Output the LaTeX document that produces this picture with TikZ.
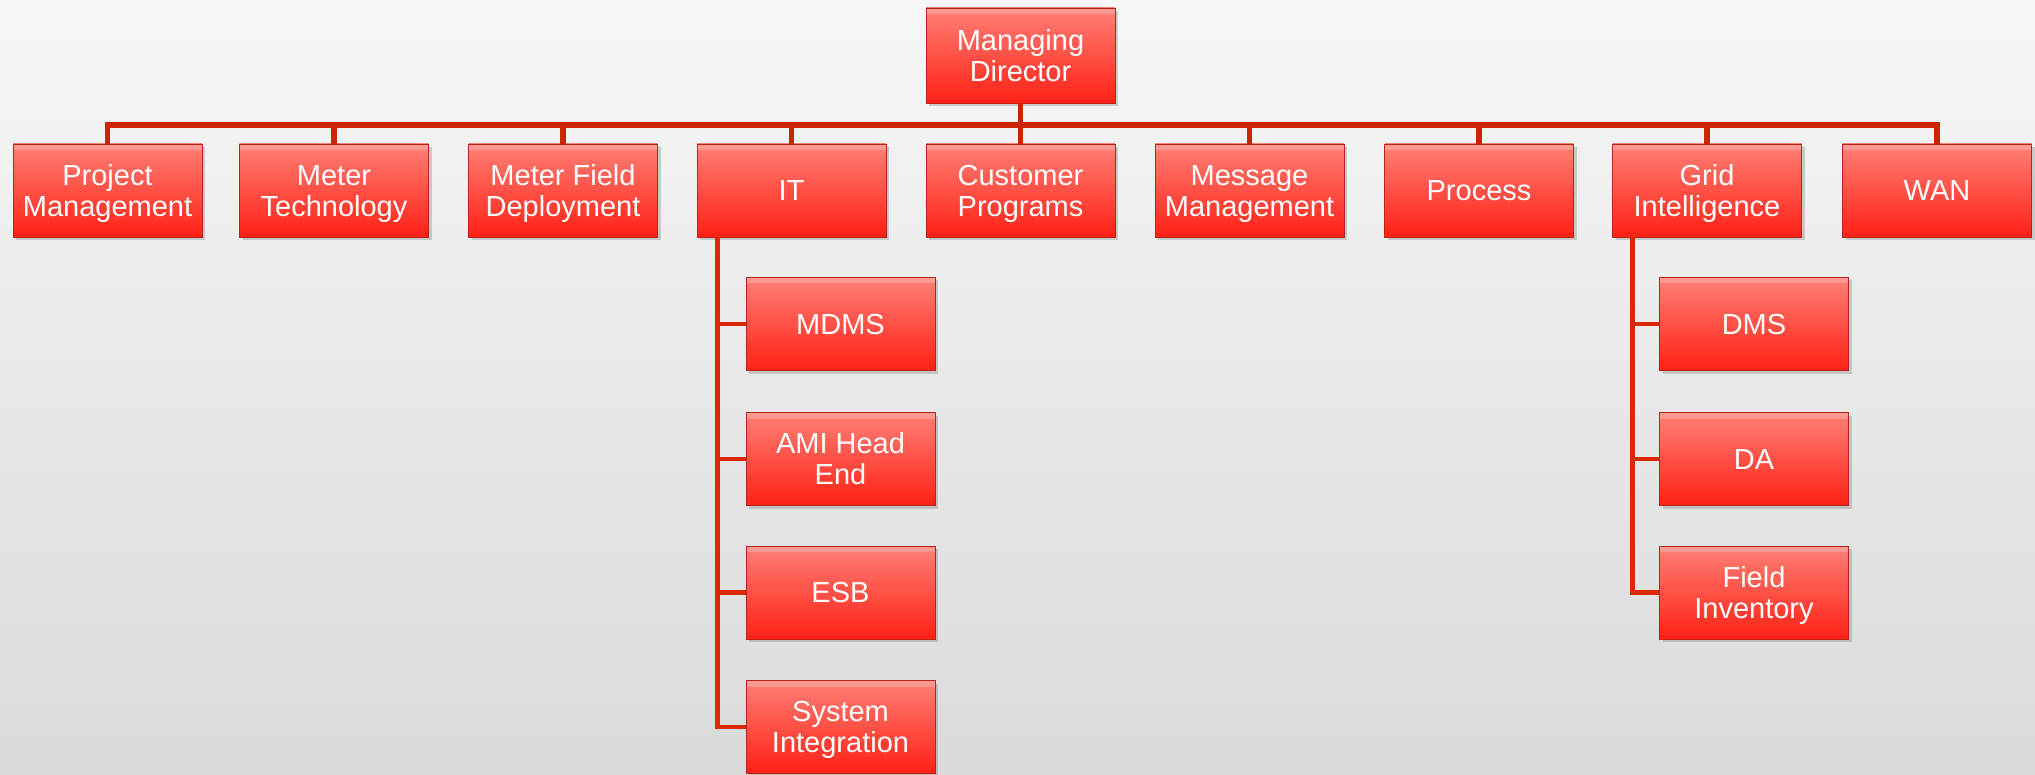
\documentclass[tikz,border=0pt]{standalone}
\usepackage{fontspec}
\setmainfont{Liberation Sans}
\usetikzlibrary{shadows}
\definecolor{bgtop}{RGB}{247,247,247}
\definecolor{bgbot}{RGB}{218,218,218}
\definecolor{boxtop}{RGB}{255,128,118}
\definecolor{boxmid}{RGB}{255,80,70}
\definecolor{boxbot}{RGB}{255,32,20}
\definecolor{boxedge}{RGB}{185,35,25}
\definecolor{linkred}{RGB}{205,35,0}
\definecolor{sublink}{RGB}{220,40,5}
\tikzset{
  orgbox/.style={draw=boxedge, line width=0.4pt, top color=boxtop, bottom color=boxbot, middle color=boxmid,
    minimum width=94.5pt, minimum height=46.5pt, inner sep=0pt, align=center, text=white,
    font=\fontsize{14.5}{15.5}\selectfont,
    text height=10.4pt, text depth=0pt,
    drop shadow={opacity=0.35, shadow xshift=1.5pt, shadow yshift=-1.5pt},
    path picture={\fill[white,opacity=0.22] (path picture bounding box.north west) rectangle ([yshift=-3pt]path picture bounding box.north east);}},
  twoline/.style={text height=25.9pt, text depth=0pt},
  link/.style={draw=linkred, line width=2.6pt},
  sublinkstyle/.style={draw=sublink, line width=2.4pt}
}
\begin{document}
\begin{tikzpicture}[x=0.5pt,y=-0.5pt]
\useasboundingbox (0,0) rectangle (2035,775);
\shade[top color=bgtop, bottom color=bgbot] (0,0) rectangle (2035,775);
\coordinate (bus) at (0,125);
% nodes
\node[orgbox, twoline, minimum height=47.5pt] (md) at (1020.5,55.5) {Managing\\Director};
\node[orgbox, twoline] (pm) at (107.5,190.5) {Project\\Management};
\node[orgbox, twoline] (mt) at (334,190.5) {Meter\\Technology};
\node[orgbox, twoline] (mfd) at (563,190.5) {Meter Field\\Deployment};
\node[orgbox] (it) at (791.5,190.5) {IT};
\node[orgbox, twoline] (cp) at (1020.5,190.5) {Customer\\Programs};
\node[orgbox, twoline] (mm) at (1249.5,190.5) {Message\\Management};
\node[orgbox] (proc) at (1479,190.5) {Process};
\node[orgbox, twoline] (gi) at (1707,190.5) {Grid\\Intelligence};
\node[orgbox] (wan) at (1937,190.5) {WAN};
\node[orgbox] (mdms) at (840.5,324) {MDMS};
\node[orgbox, twoline] (ami) at (840.5,459) {AMI Head\\End};
\node[orgbox] (esb) at (840.5,592.5) {ESB};
\node[orgbox, twoline] (si) at (840.5,727) {System\\Integration};
\node[orgbox] (dms) at (1754,324) {DMS};
\node[orgbox] (da) at (1754,459) {DA};
\node[orgbox, twoline] (fi) at (1754,592.5) {Field\\Inventory};
% connectors
\draw[link] (md.south) -- (cp.north);
\draw[link] (pm.north) -- (pm.north |- bus) -- (wan.north |- bus) -- (wan.north);
\foreach \n in {mt,mfd,it,mm,proc,gi}{\draw[link] (\n.north) -- (\n.north |- bus);}
\coordinate (itv) at ([xshift=10.5pt]it.south west);
\draw[sublinkstyle] (itv) |- (si.west);
\foreach \n in {mdms,ami,esb}{\draw[sublinkstyle] (\n.west) -- (\n.west -| itv);}
\coordinate (giv) at ([xshift=10pt]gi.south west);
\draw[sublinkstyle] (giv) |- (fi.west);
\foreach \n in {dms,da}{\draw[sublinkstyle] (\n.west) -- (\n.west -| giv);}
\end{tikzpicture}
\end{document}
